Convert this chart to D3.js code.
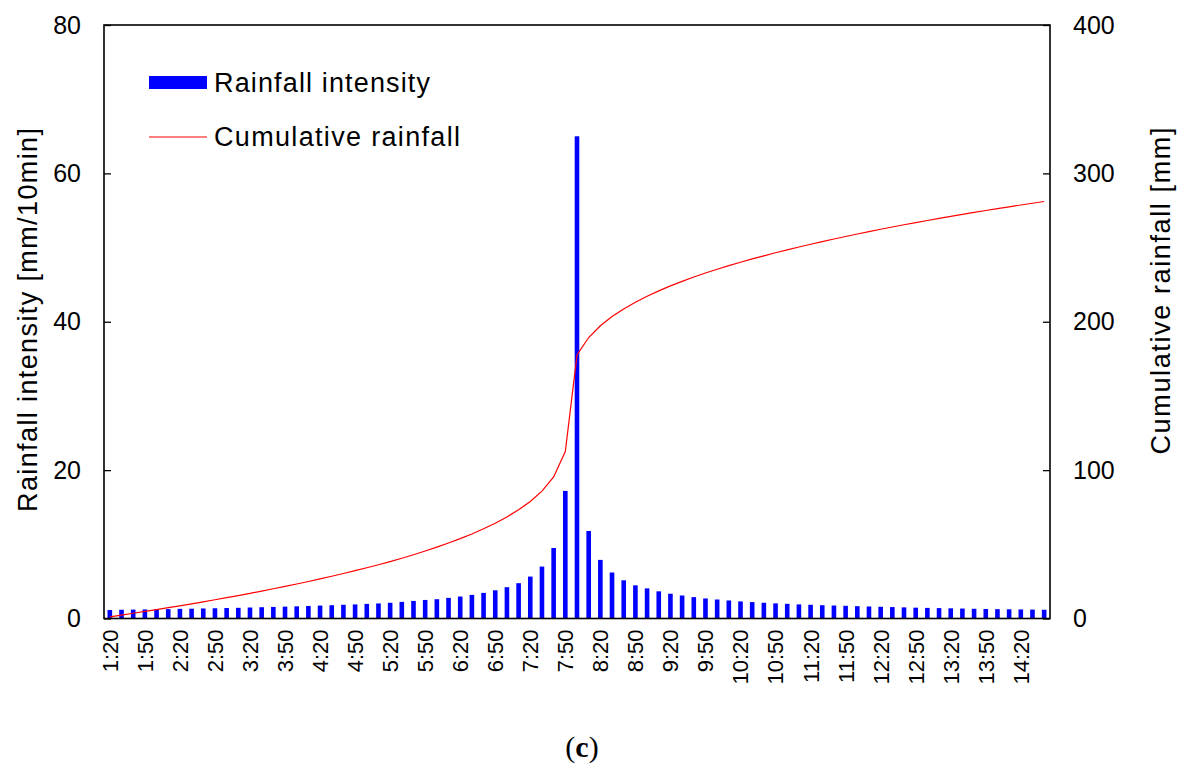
<!DOCTYPE html>
<html>
<head>
<meta charset="utf-8">
<script src="https://cdn.jsdelivr.net/npm/d3@7"></script>
<style>
  html, body { margin: 0; padding: 0; background: #fff; }
  svg { display: block; }
  text { font-family: "Liberation Sans", Arial, sans-serif; fill: #000; }
</style>
</head>
<body>
<svg id="chart" width="1183" height="766"></svg>
<script>
const times = ["1:20","1:30","1:40","1:50","2:00","2:10","2:20","2:30","2:40","2:50","3:00","3:10","3:20","3:30","3:40","3:50","4:00","4:10","4:20","4:30","4:40","4:50","5:00","5:10","5:20","5:30","5:40","5:50","6:00","6:10","6:20","6:30","6:40","6:50","7:00","7:10","7:20","7:30","7:40","7:50","8:00","8:10","8:20","8:30","8:40","8:50","9:00","9:10","9:20","9:30","9:40","9:50","10:00","10:10","10:20","10:30","10:40","10:50","11:00","11:10","11:20","11:30","11:40","11:50","12:00","12:10","12:20","12:30","12:40","12:50","13:00","13:10","13:20","13:30","13:40","13:50","14:00","14:10","14:20","14:30","14:40"];

const intensity = [1.15,1.18,1.2,1.22,1.25,1.27,1.3,1.32,1.35,1.38,1.41,1.44,1.48,1.52,1.56,1.6,1.64,1.69,1.74,1.79,
  1.85,1.9,1.97,2.03,2.12,2.24,2.37,2.5,2.6,2.78,2.96,3.18,3.45,3.8,4.22,4.76,5.65,7.0,9.5,
  17.2,65,
  11.8,7.9,6.2,5.15,4.47,4.06,3.66,3.34,3.10,2.88,2.70,2.56,2.43,2.30,2.21,2.12,2.04,1.98,1.90,
  1.85,1.79,1.75,1.71,1.66,1.62,1.58,1.54,1.50,1.46,1.43,1.40,1.37,1.34,1.31,1.28,1.26,1.24,1.22,1.20,1.18];

const cumulative = [1.15,2.33,3.53,4.75,6.00,7.27,8.57,9.89,11.24,12.62,14.03,15.47,16.95,18.47,20.03,21.63,23.27,24.96,26.70,28.49,
  30.34,32.24,34.21,36.24,38.36,40.60,42.97,45.47,48.07,50.85,53.81,56.99,60.44,64.24,68.46,73.22,78.87,85.87,95.37,
  112.57,177.57,
  189.37,197.27,203.47,208.62,213.09,217.15,220.81,224.15,227.25,230.13,232.83,235.39,237.82,240.12,242.33,244.45,246.49,248.47,250.37,
  252.22,254.01,255.76,257.47,259.13,260.75,262.33,263.87,265.37,266.83,268.26,269.66,271.03,272.37,273.68,274.96,276.22,277.46,278.68,279.88,281.06];

const xTickLabels = ["1:20","1:50","2:20","2:50","3:20","3:50","4:20","4:50","5:20","5:50","6:20","6:50","7:20","7:50","8:20","8:50","9:20","9:50","10:20","10:50","11:20","11:50","12:20","12:50","13:20","13:50","14:20"];
const leftTicks = [0, 20, 40, 60, 80];
const rightTicks = [0, 100, 200, 300, 400];
const seriesNames = ["Rainfall intensity", "Cumulative rainfall"];
const axisTitles = ["Rainfall intensity [mm/10min]", "Cumulative rainfall [mm]"];

const L = 104, R = 1050, T = 25, B = 618.5;
const svg = d3.select("#chart");

const x = d3.scaleBand().domain(times).range([L, R]).padding(0);
const y = d3.scaleLinear().domain([0, 80]).range([B, T]);
const y2 = d3.scaleLinear().domain([0, 400]).range([B, T]);

const barW = 4.6;
const bw = x.bandwidth();

// bars
svg.append("g").selectAll("rect").data(times).join("rect")
  .attr("x", d => x(d) + (bw - barW) / 2)
  .attr("width", barW)
  .attr("y", (d, i) => y(intensity[i]))
  .attr("height", (d, i) => B - y(intensity[i]))
  .attr("fill", "#0000ff");

// line
const line = d3.line()
  .x((d, i) => x(times[i]) + bw / 2)
  .y(d => y2(d));
svg.append("path").datum(cumulative)
  .attr("d", line)
  .attr("fill", "none")
  .attr("stroke", "#ff0000")
  .attr("stroke-width", 1.2);

// frame
svg.append("rect").attr("x", L).attr("y", T).attr("width", R - L).attr("height", B - T)
  .attr("fill", "none").attr("stroke", "#000").attr("stroke-width", 1.6);

// left axis
const gl = svg.append("g").attr("transform", `translate(${L},0)`)
  .call(d3.axisLeft(y).tickValues(leftTicks).tickSize(-7).tickPadding(23).tickFormat(d3.format("d")));
gl.select(".domain").remove();
gl.selectAll("line").attr("stroke", "#000").attr("stroke-width", 1.3);
gl.selectAll("text").style("font-size", "25px").style("font-family", "Liberation Sans, Arial, sans-serif");

// right axis
const gr = svg.append("g").attr("transform", `translate(${R},0)`)
  .call(d3.axisRight(y2).tickValues(rightTicks).tickSize(-7).tickPadding(23).tickFormat(d3.format("d")));
gr.select(".domain").remove();
gr.selectAll("line").attr("stroke", "#000").attr("stroke-width", 1.3);
gr.selectAll("text").style("font-size", "25px").style("font-family", "Liberation Sans, Arial, sans-serif");

// bottom axis
const gb = svg.append("g").attr("transform", `translate(0,${B})`)
  .call(d3.axisBottom(x).tickValues(xTickLabels).tickSize(0).tickPadding(0));
gb.select(".domain").remove();
gb.selectAll("text")
  .style("font-size", "22px").style("font-family", "Liberation Sans, Arial, sans-serif")
  .attr("text-anchor", "end")
  .attr("transform", "rotate(-90)")
  .attr("x", -11).attr("y", 0).attr("dy", "0.36em");

// axis titles
svg.append("text")
  .attr("transform", "translate(27,320) rotate(-90)")
  .attr("text-anchor", "middle").attr("dy", "0.36em")
  .attr("textLength", 384).attr("lengthAdjust", "spacing")
  .style("font-size", "27px")
  .text(axisTitles[0]);
svg.append("text")
  .attr("transform", "translate(1160,291) rotate(-90)")
  .attr("text-anchor", "middle").attr("dy", "0.36em")
  .attr("textLength", 327).attr("lengthAdjust", "spacing")
  .style("font-size", "27px")
  .text(axisTitles[1]);

// legend
const lg = svg.append("g");
lg.append("rect").attr("x", 149).attr("y", 76).attr("width", 58).attr("height", 13).attr("fill", "#0000ff");
lg.append("text").attr("x", 214).attr("y", 92)
  .attr("textLength", 216).attr("lengthAdjust", "spacing")
  .style("font-size", "27px").text(seriesNames[0]);
lg.append("line").attr("x1", 149).attr("x2", 207).attr("y1", 137).attr("y2", 137)
  .attr("stroke", "#ff0000").attr("stroke-width", 1.2);
lg.append("text").attr("x", 214).attr("y", 146)
  .attr("textLength", 246).attr("lengthAdjust", "spacing")
  .style("font-size", "27px").text(seriesNames[1]);

// caption
const cap = svg.append("text").attr("x", 582).attr("y", 757).attr("text-anchor", "middle")
  .style("font-family", "Liberation Serif, Times New Roman, serif").style("font-size", "30px");
cap.append("tspan").text("(");
cap.append("tspan").style("font-weight", "bold").text("c");
cap.append("tspan").text(")");
</script>
</body>
</html>
